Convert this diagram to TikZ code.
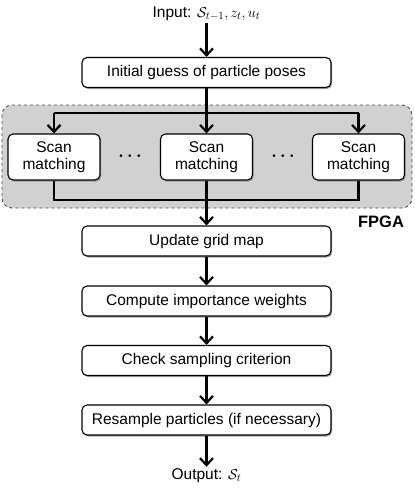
\documentclass[tikz,border=0pt]{standalone}
\usepackage{fontspec}
\setmainfont{Liberation Sans}
\usetikzlibrary{arrows.meta,shadows,calc}
\begin{document}
\begin{tikzpicture}[x=1pt,y=-1pt,
  box/.style={draw=black,line width=1.1pt,rounded corners=5pt,fill=white,
    minimum width=249pt,minimum height=30pt,inner sep=0pt,font=\fontsize{15.5}{18}\selectfont,
    drop shadow={shadow xshift=1.2pt,shadow yshift=-1.5pt,fill=black!45,opacity=0.8}},
  sbox/.style={box,minimum width=92pt,minimum height=46pt,align=center,
    font=\fontsize{15.5}{17.5}\selectfont},
  lbl/.style={inner sep=2pt,font=\fontsize{15.5}{18}\selectfont},
  dots/.style={font=\fontsize{19}{19}\selectfont\boldmath},
  arr/.style={line width=2.2pt,-{Straight Barb[length=7pt,width=13pt,line width=2.2pt]}},
  ln/.style={line width=2.2pt}]
\useasboundingbox (0,0) rectangle (415,496);
% FPGA region
\draw[fill=black!18,draw=black!70,dashed,line width=0.9pt,rounded corners=10pt] (2,105) rectangle (412,208);
\node[font=\bfseries\fontsize{16.5}{18}\selectfont] (fpga) at (381,222) {FPGA};
% nodes
\node[lbl] (in) at (206.5,14) {Input: $\mathcal{S}_{t-1}, z_t, u_t$};
\node[box] (init) at (206.5,72.5) {Initial guess of particle poses};
\node[sbox] (s1) at (54,157) {Scan\\matching};
\node[sbox] (s2) at (206.5,157) {Scan\\matching};
\node[sbox] (s3) at (358.5,157) {Scan\\matching};
\node[dots] (d1) at (130,156) {$\cdots$};
\node[dots] (d2) at (283,156) {$\cdots$};
\node[box] (upd) at (206.5,241) {Update grid map};
\node[box] (cmp) at (206.5,301) {Compute importance weights};
\node[box] (chk) at (206.5,360.5) {Check sampling criterion};
\node[box] (res) at (206.5,420) {Resample particles (if necessary)};
\node[lbl] (out) at (206.5,476) {Output: $\mathcal{S}_t$};
% coordinates for buses
\coordinate (tb) at (206.5,113);
\coordinate (bb) at (206.5,200);
% connectors
\draw[arr] (in) -- (init);
\draw[arr] (init) -- (s2);
\draw[ln] (s1.north |- tb) -- (s3.north |- tb);
\draw[arr] (s1.north |- tb) -- (s1.north);
\draw[arr] (s3.north |- tb) -- (s3.north);
\draw[ln] (s1.south) -- (s1.south |- bb) -- (s3.south |- bb) -- (s3.south);
\draw[arr] (s2.south) -- (upd.north);
\draw[arr] (upd) -- (cmp);
\draw[arr] (cmp) -- (chk);
\draw[arr] (chk) -- (res);
\draw[arr] (res) -- (out);
\end{tikzpicture}
\end{document}
